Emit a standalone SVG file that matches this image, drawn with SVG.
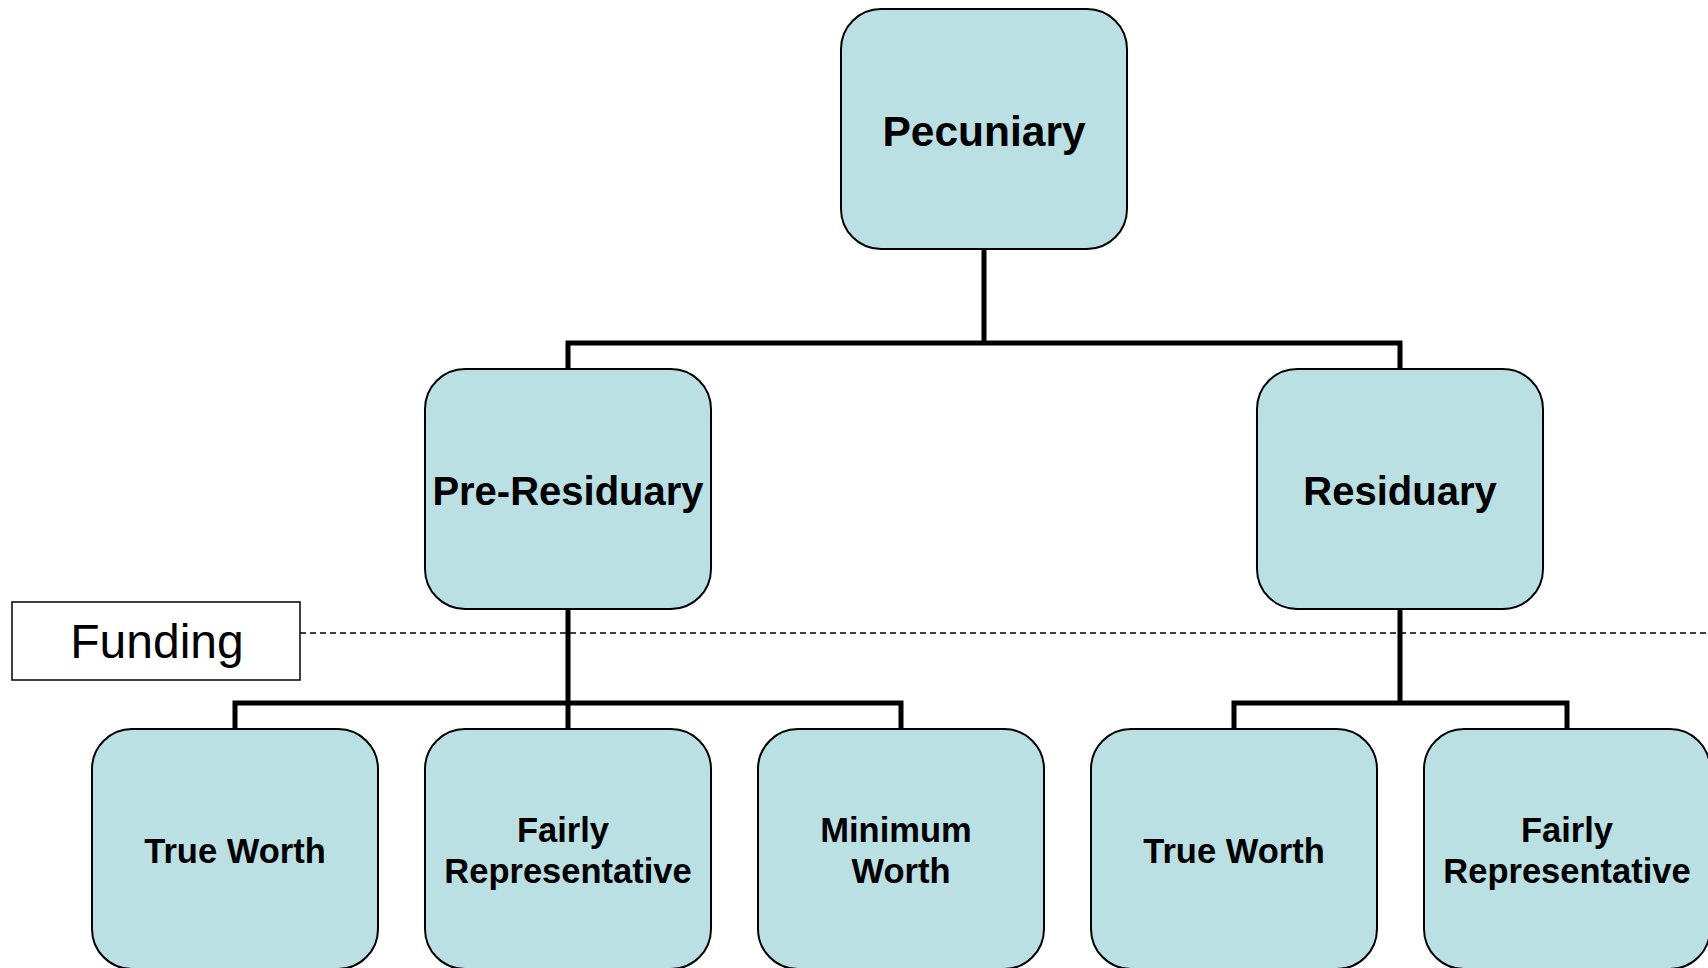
<svg xmlns="http://www.w3.org/2000/svg" width="1708" height="968" viewBox="0 0 1708 968">
<style>
.box{fill:#BAE0E3;stroke:#000;stroke-width:2}
.t{font-family:"Liberation Sans",Arial,sans-serif;font-weight:bold;fill:#000;text-anchor:middle}
.big{font-size:40px}
.sm{font-size:34.5px}
.con{fill:none;stroke:#000;stroke-width:5}
</style>
<rect width="1708" height="968" fill="#fff"/>
<g id="connectors">
<path class="con" d="M984 249V343M568 369V343H1400V369"/>
<path class="con" d="M568 609V729M235 729V703H901V729"/>
<path class="con" d="M1400 609V703M1234 729V703H1567V729"/>
<line x1="300" y1="633" x2="1708" y2="633" stroke="#000" stroke-width="1.5" stroke-dasharray="6,4"/>
</g>
<g id="pecuniary"><rect class="box" x="841" y="9" width="286" height="240" rx="40"/><text class="t" x="984" y="146" font-size="42.5">Pecuniary</text></g>
<g id="pre-residuary"><rect class="box" x="425" y="369" width="286" height="240" rx="40"/><text class="t big" x="568" y="505">Pre-Residuary</text></g>
<g id="residuary"><rect class="box" x="1257" y="369" width="286" height="240" rx="40"/><text class="t big" x="1400" y="505">Residuary</text></g>
<g id="funding"><rect x="12" y="602" width="288" height="78" fill="#fff" stroke="#000" stroke-width="1.5"/><text x="157" y="658" font-family="Liberation Sans,Arial,sans-serif" font-size="48" text-anchor="middle">Funding</text></g>
<g id="true-worth-1"><rect class="box" x="92" y="729" width="286" height="240" rx="40"/><text class="t sm" x="235" y="863">True Worth</text></g>
<g id="fairly-rep-1"><rect class="box" x="425" y="729" width="286" height="240" rx="40"/><text class="t sm" x="563" y="842">Fairly</text><text class="t sm" x="568" y="883">Representative</text></g>
<g id="minimum-worth"><rect class="box" x="758" y="729" width="286" height="240" rx="40"/><text class="t sm" x="896" y="842">Minimum</text><text class="t sm" x="901" y="883">Worth</text></g>
<g id="true-worth-2"><rect class="box" x="1091" y="729" width="286" height="240" rx="40"/><text class="t sm" x="1234" y="863">True Worth</text></g>
<g id="fairly-rep-2"><rect class="box" x="1424" y="729" width="286" height="240" rx="40"/><text class="t sm" x="1567" y="842">Fairly</text><text class="t sm" x="1567" y="883">Representative</text></g>
</svg>
